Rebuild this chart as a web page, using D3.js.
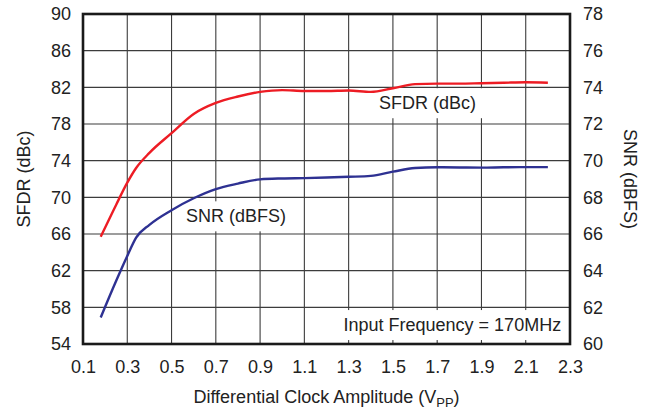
<!DOCTYPE html>
<html>
<head>
<meta charset="utf-8">
<script src="https://cdn.jsdelivr.net/npm/d3@7"></script>
<style>
  body { margin: 0; background: #fff; }
  svg { display: block; font-family: "Liberation Sans", Arial, Helvetica, sans-serif; }
  .tick-label { font-size: 18px; fill: #222; }
  .title { font-size: 18px; fill: #222; }
</style>
</head>
<body>
<svg id="chart"></svg>
<script>
// clock amplitude (Vpp)
var amp = [0.18, 0.25, 0.3, 0.34, 0.4, 0.5, 0.6, 0.7, 0.8, 0.9, 1.0, 1.1, 1.2, 1.3, 1.4, 1.5, 1.6, 1.7, 1.8, 1.9, 2.0, 2.1, 2.2];
// SFDR in dBc, left axis
var sfdr = [65.7, 69.2, 71.6, 73.2, 74.85, 77.0, 79.1, 80.3, 81.0, 81.5, 81.7, 81.6, 81.6, 81.65, 81.5, 81.9, 82.35, 82.4, 82.4, 82.45, 82.5, 82.55, 82.5];
// SNR in dBFS, right axis
var snr = [61.45, 63.45, 64.8, 65.8, 66.5, 67.3, 67.95, 68.45, 68.75, 68.98, 69.03, 69.05, 69.08, 69.12, 69.17, 69.4, 69.6, 69.64, 69.63, 69.62, 69.64, 69.65, 69.65];

var xTicks = [0.1, 0.3, 0.5, 0.7, 0.9, 1.1, 1.3, 1.5, 1.7, 1.9, 2.1, 2.3];
var leftTicks = [54, 58, 62, 66, 70, 74, 78, 82, 86, 90];
var rightTicks = [60, 62, 64, 66, 68, 70, 72, 74, 76, 78];

var width = 649, height = 409;
var margin = { left: 83, right: 79, top: 14, bottom: 65 };

var svg = d3.select("#chart").attr("width", width).attr("height", height);

var x = d3.scaleLinear().domain([0.1, 2.3]).range([margin.left, width - margin.right]);
var yL = d3.scaleLinear().domain([54, 90]).range([height - margin.bottom, margin.top]);
var yR = d3.scaleLinear().domain([60, 78]).range([height - margin.bottom, margin.top]);

var x0 = x.range()[0], x1 = x.range()[1];
var yb = yL.range()[0], yt = yL.range()[1];

// grid
var grid = svg.append("g").attr("stroke", "#3c3c3c").attr("stroke-width", 1.1);
xTicks.slice(1, -1).forEach(function (t) {
  grid.append("line").attr("x1", x(t)).attr("x2", x(t)).attr("y1", yt).attr("y2", yb);
});
leftTicks.slice(1, -1).forEach(function (t) {
  grid.append("line").attr("x1", x0).attr("x2", x1).attr("y1", yL(t)).attr("y2", yL(t));
});

// label boxes go above grid, under curves
var labels = svg.append("g");
function boxLabel(txt, px, py, anchor) {
  var g = labels.append("g");
  var t = g.append("text").attr("class", "title")
    .attr("x", px).attr("y", py).attr("dy", "0.35em")
    .attr("text-anchor", anchor).text(txt);
  var bb = t.node().getBBox();
  g.insert("rect", "text").attr("x", bb.x - 7).attr("y", bb.y - 5)
    .attr("width", bb.width + 14).attr("height", bb.height + 10).attr("fill", "#fff");
}
boxLabel("SFDR (dBc)", x(1.656), yL(80.3), "middle");
boxLabel("SNR (dBFS)", x(0.791), yL(67.96), "middle");
boxLabel("Input Frequency = 170MHz", x(2.26), yL(56.1), "end");

// curves
var lineL = d3.line().x(function (d, i) { return x(amp[i]); }).y(function (d) { return yL(d); }).curve(d3.curveMonotoneX);
var lineR = d3.line().x(function (d, i) { return x(amp[i]); }).y(function (d) { return yR(d); }).curve(d3.curveMonotoneX);

svg.append("path").datum(sfdr).attr("d", lineL)
  .attr("fill", "none").attr("stroke", "#ED1C24").attr("stroke-width", 2.4);
svg.append("path").datum(snr).attr("d", lineR)
  .attr("fill", "none").attr("stroke", "#2E3192").attr("stroke-width", 2.4);

// frame
svg.append("rect").attr("x", x0).attr("y", yt).attr("width", x1 - x0).attr("height", yb - yt)
  .attr("fill", "none").attr("stroke", "#1a1a1a").attr("stroke-width", 2.6);

// axes (labels only, lines drawn by frame)
var axB = svg.append("g").attr("transform", "translate(0," + yb + ")")
  .call(d3.axisBottom(x).tickValues(xTicks).tickSize(0).tickPadding(16).tickFormat(d3.format(".1f")));
var axL = svg.append("g").attr("transform", "translate(" + x0 + ",0)")
  .call(d3.axisLeft(yL).tickValues(leftTicks).tickSize(0).tickPadding(12));
var axR = svg.append("g").attr("transform", "translate(" + x1 + ",0)")
  .call(d3.axisRight(yR).tickValues(rightTicks).tickSize(0).tickPadding(13));
[axB, axL, axR].forEach(function (a) {
  a.select(".domain").remove();
  a.selectAll("text").attr("class", "tick-label").attr("font-size", null).attr("font-family", null);
  a.attr("font-size", null).attr("font-family", null);
});

// titles
var xt = svg.append("text").attr("class", "title")
  .attr("x", (x0 + x1) / 2).attr("y", 403).attr("text-anchor", "middle");
xt.append("tspan").text("Differential Clock Amplitude (V");
xt.append("tspan").attr("font-size", "13px").attr("dy", 4).text("PP");
xt.append("tspan").attr("dy", -4).text(")");

svg.append("text").attr("class", "title")
  .attr("transform", "translate(30," + (yt + yb) / 2 + ") rotate(-90)")
  .attr("text-anchor", "middle").text("SFDR (dBc)");
svg.append("text").attr("class", "title")
  .attr("transform", "translate(624," + (yt + yb) / 2 + ") rotate(90)")
  .attr("text-anchor", "middle").text("SNR (dBFS)");
</script>
</body>
</html>
